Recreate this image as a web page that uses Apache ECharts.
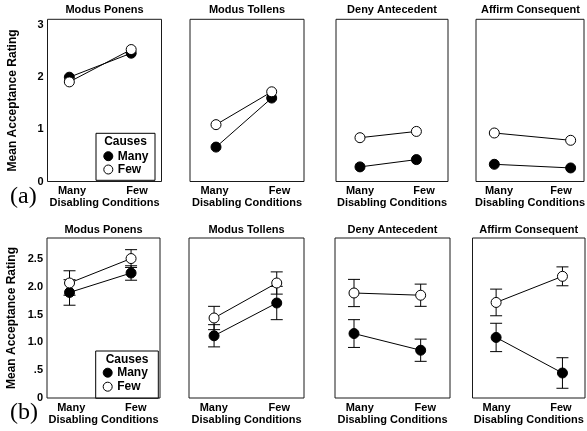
<!DOCTYPE html>
<html>
<head>
<meta charset="utf-8">
<script src="https://cdn.jsdelivr.net/npm/echarts@6/dist/echarts.min.js"></script>
<style>
html,body{margin:0;padding:0;background:#fff;}
#chart{width:587px;height:431px;}
</style>
</head>
<body>
<div id="chart"></div>
<script>
// ---------- DATA ----------
const conditions = ['Many', 'Few'];            // Disabling Conditions (x)
const causeLevels = ['Many', 'Few'];           // Causes (legend)
const panelTitles = ['Modus Ponens', 'Modus Tollens', 'Deny Antecedent', 'Affirm Consequent'];
const rowLabels = ['(a)', '(b)'];
const yAxisTitle = 'Mean Acceptance Rating';
const xAxisTitle = 'Disabling Conditions';
const legendTitle = 'Causes';

const yTickValuesA = [0, 1, 2, 3];
const yTickLabelsA = ['0', '1', '2', '3'];
const yTickValuesB = [0, 0.5, 1.0, 1.5, 2.0, 2.5];
const yTickLabelsB = ['0', '.5', '1.0', '1.5', '2.0', '2.5'];

// (a) panels: [Many DC, Few DC] per panel
const aManyCauses = [[2.00, 2.46], [0.66, 1.60], [0.28, 0.42], [0.33, 0.26]];
const aFewCauses  = [[1.91, 2.53], [1.09, 1.72], [0.84, 0.96], [0.93, 0.79]];
// (b) panels with error bars
const bManyCauses    = [[1.90, 2.25], [1.12, 1.71], [1.16, 0.86], [1.09, 0.45]];
const bManyCausesErr = [[0.23, 0.13], [0.20, 0.30], [0.25, 0.20], [0.255, 0.275]];
const bFewCauses     = [[2.07, 2.51], [1.44, 2.07], [1.89, 1.85], [1.72, 2.19]];
const bFewCausesErr  = [[0.22, 0.16], [0.21, 0.20], [0.245, 0.20], [0.24, 0.17]];

// ---------- LAYOUT ----------
const FONT = '"Liberation Sans", Arial, Helvetica, sans-serif';
const rows = [
  { top: 19.3, height: 162.2, yMax: 3.11, interval: 1, ticks: yTickValuesA, labels: yTickLabelsA,
    panels: [{left: 47.5, width: 114}, {left: 190, width: 114}, {left: 336, width: 112}, {left: 476, width: 109}],
    xRange: [[0.647, 2.49], [0.533, 2.58], [0.575, 2.56], [0.76, 2.175]],
    titleY: 10, rowLabelY: 197,
    many: aManyCauses, few: aFewCauses, manyErr: null, fewErr: null,
    legend: {left: 103.3, top: 150.2, gap: 1.3, box: [96, 133.3, 59, 47], titleY: 141.7} },
  { top: 238, height: 160, yMax: 2.88, interval: 0.5, ticks: yTickValuesB, labels: yTickLabelsB,
    panels: [{left: 47, width: 113}, {left: 189, width: 115}, {left: 335, width: 115}, {left: 472.5, width: 112.5}],
    xRange: [[0.634, 2.47], [0.60, 2.435], [0.715, 2.44], [0.644, 2.34]],
    titleY: 229.8, rowLabelY: 413,
    many: bManyCauses, few: bFewCauses, manyErr: bManyCausesErr, fewErr: bFewCausesErr,
    legend: {left: 102.7, top: 366.7, gap: 2, box: [95.7, 351, 62.6, 47.3], titleY: 360} }
];

const grids = [], xAxes = [], yAxes = [], series = [], graphics = [], legends = [];

function errorBarSeries(gi, vals, errs, name) {
  return {
    type: 'custom', xAxisIndex: 2 * gi, yAxisIndex: gi, z: 1, silent: true,
    data: conditions.map((c, i) => [i + 1, vals[i], errs[i]]),
    renderItem: function (params, api) {
      const x = api.value(0), y = api.value(1), e = api.value(2);
      const top = api.coord([x, y + e]);
      const bot = api.coord([x, y - e]);
      const hw = 6;
      const st = { stroke: '#000', lineWidth: 1 };
      return { type: 'group', children: [
        { type: 'line', shape: { x1: top[0], y1: top[1], x2: bot[0], y2: bot[1] }, style: st },
        { type: 'line', shape: { x1: top[0] - hw, y1: top[1], x2: top[0] + hw, y2: top[1] }, style: st },
        { type: 'line', shape: { x1: bot[0] - hw, y1: bot[1], x2: bot[0] + hw, y2: bot[1] }, style: st }
      ]};
    }
  };
}

rows.forEach((row, r) => {
  row.panels.forEach((pl, p) => {
    const gi = r * 4 + p;
    grids.push({ left: pl.left, top: row.top, width: pl.width, height: row.height,
      show: true, borderColor: '#1a1a1a', borderWidth: 1, backgroundColor: 'transparent' });
    // data axis (hidden)
    xAxes.push({ gridIndex: gi, type: 'value', min: row.xRange[p][0], max: row.xRange[p][1], show: false });
    // label axis
    xAxes.push({ gridIndex: gi, type: 'category', data: conditions, position: 'bottom', boundaryGap: true,
      axisLine: { show: false }, axisTick: { show: false }, splitLine: { show: false },
      axisLabel: { margin: 4, interval: 0,
        formatter: v => (v === conditions[0] ? '{m|' + v + '}' : '{f|' + v + '}'),
        rich: {
          m: { padding: [0, 8, 0, 0], fontFamily: FONT, fontWeight: 'bold', fontSize: 11, color: '#000' },
          f: { padding: [0, 0, 0, 8], fontFamily: FONT, fontWeight: 'bold', fontSize: 11, color: '#000' }
        } },
      name: xAxisTitle, nameLocation: 'middle', nameGap: 16,
      nameTextStyle: { fontFamily: FONT, fontWeight: 'bold', fontSize: 11, color: '#000' } });
    yAxes.push({ gridIndex: gi, type: 'value', min: 0, max: row.yMax, interval: row.interval,
      axisLine: { show: false }, axisTick: { show: false }, splitLine: { show: false },
      axisLabel: { show: p === 0, margin: 4, fontFamily: FONT, fontWeight: 'bold', fontSize: 11, color: '#000',
        formatter: v => { const k = row.ticks.findIndex(t => Math.abs(t - v) < 1e-6); return k < 0 ? '' : row.labels[k]; } },
      name: p === 0 ? yAxisTitle : '', nameLocation: 'middle', nameGap: 29, nameRotate: 90,
      nameTextStyle: { fontFamily: FONT, fontWeight: 'bold', fontSize: 12, color: '#000' } });

    if (row.manyErr) {
      series.push(errorBarSeries(gi, row.many[p], row.manyErr[p]));
      series.push(errorBarSeries(gi, row.few[p], row.fewErr[p]));
    }
    series.push({ type: 'line', name: causeLevels[0], xAxisIndex: 2 * gi, yAxisIndex: gi, z: 3,
      data: conditions.map((c, i) => [i + 1, row.many[p][i]]),
      symbol: 'circle', symbolSize: 10, showSymbol: true, silent: true,
      lineStyle: { color: '#000', width: 1 },
      itemStyle: { color: '#000', borderColor: '#000', borderWidth: 1 } });
    series.push({ type: 'line', name: causeLevels[1], xAxisIndex: 2 * gi, yAxisIndex: gi, z: 4,
      data: conditions.map((c, i) => [i + 1, row.few[p][i]]),
      symbol: 'circle', symbolSize: 10, showSymbol: true, silent: true,
      lineStyle: { color: '#000', width: 1 },
      itemStyle: { color: '#fff', borderColor: '#000', borderWidth: 1 } });

    graphics.push({ type: 'text', x: pl.left + pl.width / 2, y: row.titleY,
      style: { text: panelTitles[p], fill: '#000', font: 'bold 11px ' + FONT, textAlign: 'center', textVerticalAlign: 'middle' } });
  });

  graphics.push({ type: 'text', x: 10, y: row.rowLabelY,
    style: { text: rowLabels[r], fill: '#000', font: '24px "Liberation Serif", "Times New Roman", serif', textAlign: 'left', textVerticalAlign: 'middle' } });
  const lb = row.legend.box;
  graphics.push({ type: 'rect', z: -1, shape: { x: lb[0], y: lb[1], width: lb[2], height: lb[3] },
    style: { fill: 'transparent', stroke: '#000', lineWidth: 1 } });
  graphics.push({ type: 'text', x: lb[0] + lb[2] / 2, y: row.legend.titleY,
    style: { text: legendTitle, fill: '#000', font: 'bold 12px ' + FONT, textAlign: 'center', textVerticalAlign: 'middle' } });
  legends.push({ orient: 'vertical', left: row.legend.left, top: row.legend.top, padding: 0,
    itemGap: row.legend.gap, itemWidth: 9, itemHeight: 9, icon: 'circle', selectedMode: false,
    textStyle: { fontFamily: FONT, fontWeight: 'bold', fontSize: 12, color: '#000', lineHeight: 12 },
    data: [
      { name: causeLevels[0], itemStyle: { color: '#000', borderColor: '#000', borderWidth: 1 } },
      { name: causeLevels[1], itemStyle: { color: '#fff', borderColor: '#000', borderWidth: 1 } }
    ] });
});

const chart = echarts.init(document.getElementById('chart'), null, { renderer: 'canvas' });
chart.setOption({
  backgroundColor: '#fff',
  animation: false,
  grid: grids, xAxis: xAxes, yAxis: yAxes, series: series,
  legend: legends,
  graphic: graphics
});
</script>
</body>
</html>
